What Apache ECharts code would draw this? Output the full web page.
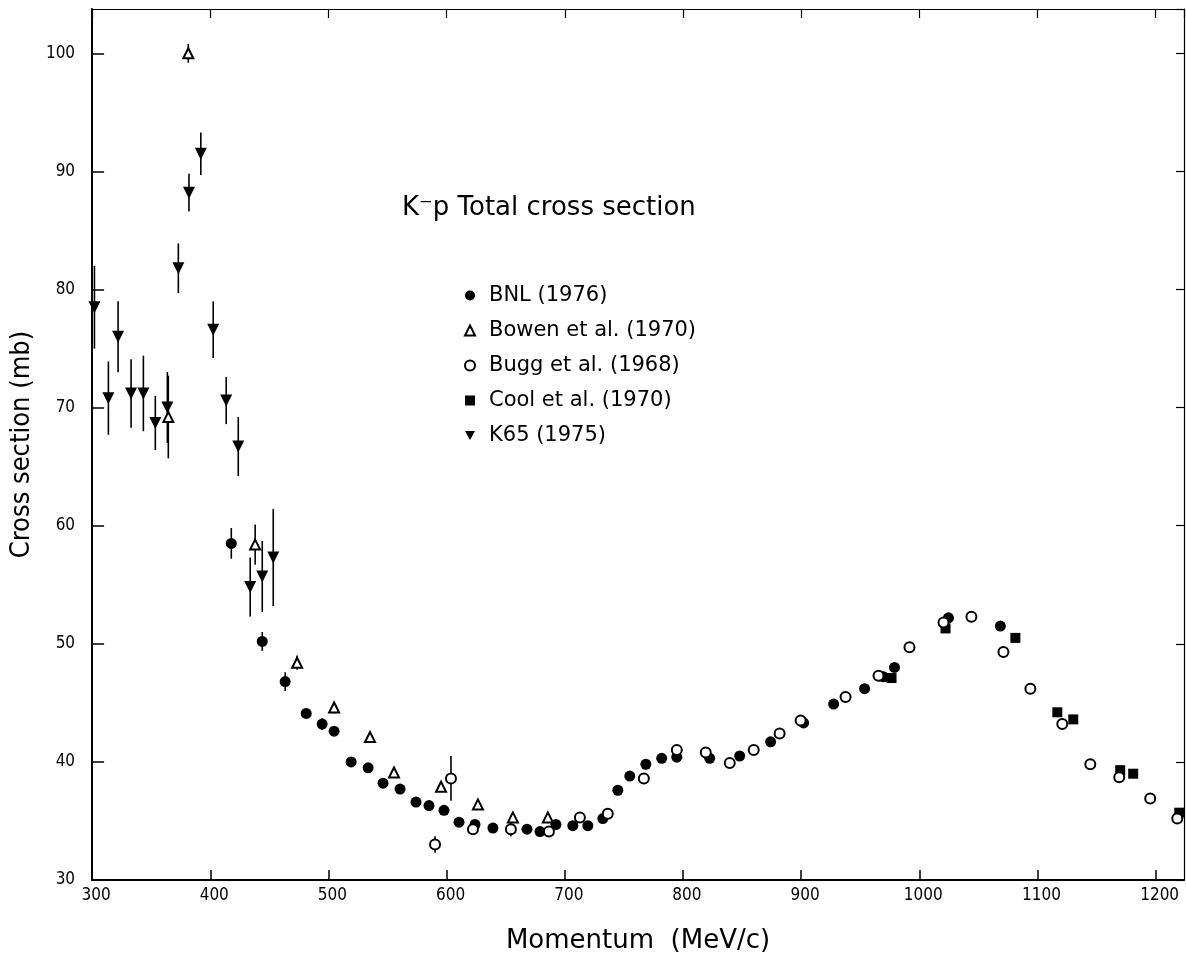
<!DOCTYPE html>
<html>
<head>
<meta charset="utf-8">
<script src="https://cdn.jsdelivr.net/npm/echarts@6/dist/echarts.min.js"></script>
<style>
  html, body { margin: 0; padding: 0; background: #fff; }
  #chart { width: 1186px; height: 965px; }
</style>
</head>
<body>
<div id="chart"></div>
<script>
/*-----data (momentum MeV/c, cross section mb, error mb)-----*/
var bnlX = [417.8, 444, 463.4, 481.2, 494.7, 504.8, 519.2, 533.6, 546.2, 560.6, 574.1, 585.1, 597.8, 610.5, 624, 639.2, 668, 679, 692.5, 706.8, 719.5, 732.2, 744.9, 755, 768.6, 782, 794.8, 822.6, 848, 874.2, 902.1, 927.5, 953.7, 969.7, 979, 1024.7, 1068.6];
var bnlY = [58.5, 50.2, 46.8, 44.1, 43.2, 42.6, 40.0, 39.5, 38.2, 37.7, 36.6, 36.3, 35.9, 34.9, 34.7, 34.4, 34.3, 34.1, 34.7, 34.6, 34.6, 35.2, 37.6, 38.8, 39.8, 40.3, 40.4, 40.3, 40.5, 41.7, 43.3, 44.9, 46.2, 47.2, 48.0, 52.2, 51.5];
var bnlErr = [1.3, 0.8, 0.8, 0.4, 0.5];

var bowenX = [364.5, 381.4, 438, 473.5, 504.8, 535.2, 555.5, 595.3, 626.5, 656.1, 685.7];
var bowenY = [69.2, 100.0, 58.4, 48.4, 44.6, 42.1, 39.1, 37.9, 36.4, 35.3, 35.3];
var bowenErr = [3.5, 0.8, 1.7, 0.6, 0.5, 0.4];

var buggX = [590.2, 603.7, 622.3, 654.4, 686.6, 712.8, 736.4, 766.9, 794.8, 819.3, 839.6, 859.9, 881.8, 899.6, 937.6, 965.5, 991.7, 1020.5, 1044.1, 1071.2, 1094, 1121, 1144.7, 1169.2, 1195.4, 1218.3];
var buggY = [33.0, 38.6, 34.3, 34.3, 34.1, 35.3, 35.6, 38.6, 41.0, 40.8, 39.9, 41.0, 42.4, 43.5, 45.5, 47.3, 49.7, 51.8, 52.3, 49.3, 46.2, 43.2, 39.8, 38.7, 36.9, 35.2];
var buggErr = [0.7, 1.9, 0.4, 0.6];

var coolX = [976.5, 1022.2, 1081.3, 1116.8, 1130.3, 1170, 1181, 1220];
var coolY = [47.1, 51.3, 50.5, 44.2, 43.6, 39.3, 39.0, 35.7];

var k65X = [302, 313.8, 322, 333, 343.4, 353.5, 363.7, 373, 382, 392, 402.5, 413.5, 423.7, 433.8, 444, 453.3];
var k65Y = [78.5, 70.8, 76.0, 71.2, 71.2, 68.7, 70.0, 81.8, 88.2, 91.5, 76.6, 70.6, 66.7, 54.8, 55.7, 57.3];
var k65Err = [3.5, 3.1, 3.0, 2.9, 3.2, 2.3, 3.0, 2.1, 1.6, 1.8, 2.4, 2.0, 2.5, 2.5, 3.0, 4.1];

var xTicks = [300, 400, 500, 600, 700, 800, 900, 1000, 1100, 1200];
var yTicks = [30, 40, 50, 60, 70, 80, 90, 100];

/*-----helpers-----*/
function points(xs, ys) {
  var out = [];
  for (var i = 0; i < xs.length; i++) out.push([xs[i], ys[i]]);
  return out;
}
function bars(xs, ys, es) {
  var out = [];
  for (var i = 0; i < es.length; i++) {
    if (es[i]) out.push([xs[i], ys[i] - es[i], ys[i] + es[i]]);
  }
  return out;
}
var errData = []
  .concat(bars(bnlX, bnlY, bnlErr))
  .concat(bars(bowenX, bowenY, bowenErr))
  .concat(bars(buggX, buggY, buggErr))
  .concat(bars(k65X, k65Y, k65Err));

var ink = '#000';
var narrow = "'Liberation Sans Narrow', 'DejaVu Sans Condensed', 'Liberation Sans', sans-serif";
var round = "'DejaVu Sans', 'Noto Sans', sans-serif";

var chart = echarts.init(document.getElementById('chart'));

var option = {
  backgroundColor: '#fff',
  animation: false,
  title: {
    text: 'K\u207Bp Total cross section',
    left: 397,
    top: 190,
    textStyle: { fontFamily: round, fontSize: 26, fontWeight: 'normal', color: ink }
  },
  legend: {
    orient: 'vertical',
    left: 459,
    top: 280,
    itemWidth: 10,
    itemHeight: 10,
    itemGap: 14,
    data: [
      { name: 'BNL (1976)' },
      { name: 'Bowen et al. (1970)' },
      { name: 'Bugg et al. (1968)' },
      { name: 'Cool et al. (1970)' },
      { name: 'K65 (1975)', icon: 'path://M0,0 L10,0 L5,9 Z' }
    ],
    textStyle: { fontFamily: round, fontSize: 21, color: ink, padding: [0, 0, 0, 9] }
  },
  grid: { left: 91, right: 2, top: 9, bottom: 85 },
  xAxis: [{
    type: 'value',
    min: 300,
    max: 1224,
    interval: 100,
    position: 'bottom',
    name: 'Momentum  (MeV/c)',
    nameLocation: 'middle',
    nameGap: 48,
    nameTextStyle: { fontFamily: round, fontSize: 26, color: ink },
    axisLine: { lineStyle: { color: ink, width: 2 } },
    axisTick: { inside: true, length: 10, lineStyle: { color: ink, width: 1.5 } },
    axisLabel: {
      fontFamily: narrow, fontSize: 17, color: ink, margin: 7,
      showMinLabel: true, showMaxLabel: false,
      padding: [0, 0, 0, 8],
      formatter: function (v) { return xTicks.indexOf(v) >= 0 ? String(v) : ''; }
    },
    splitLine: { show: false }
  }, {
    type: 'value',
    min: 300,
    max: 1224,
    interval: 100,
    position: 'top',
    axisLine: { lineStyle: { color: ink, width: 1.2 } },
    axisTick: { inside: true, length: 9, lineStyle: { color: ink, width: 1.2 } },
    axisLabel: { show: false },
    splitLine: { show: false }
  }],
  yAxis: [{
    type: 'value',
    min: 30,
    max: 103.75,
    interval: 10,
    position: 'left',
    name: 'Cross section (mb)',
    nameLocation: 'middle',
    nameGap: 52,
    nameTextStyle: { fontFamily: narrow, fontSize: 27, color: ink },
    axisLine: { lineStyle: { color: ink, width: 2 } },
    axisTick: { inside: true, length: 12, lineStyle: { color: ink, width: 1.5 } },
    axisLabel: {
      fontFamily: narrow, fontSize: 17, color: ink, margin: 17,
      showMaxLabel: false,
      formatter: function (v) { return yTicks.indexOf(v) >= 0 ? String(v) : ''; }
    },
    splitLine: { show: false }
  }, {
    type: 'value',
    min: 30,
    max: 103.75,
    interval: 10,
    position: 'right',
    axisLine: { lineStyle: { color: ink, width: 1.2 } },
    axisTick: { inside: true, length: 8, lineStyle: { color: ink, width: 1.2 } },
    axisLabel: { show: false },
    splitLine: { show: false }
  }],
  series: [
    {
      type: 'custom',
      z: 1,
      silent: true,
      encode: { x: 0, y: [1, 2] },
      data: errData,
      renderItem: function (params, api) {
        var x = api.value(0);
        var p1 = api.coord([x, api.value(1)]);
        var p2 = api.coord([x, api.value(2)]);
        return {
          type: 'line',
          shape: { x1: p1[0], y1: p1[1], x2: p2[0], y2: p2[1] },
          style: { stroke: ink, lineWidth: 1.6 }
        };
      }
    },
    {
      name: 'BNL (1976)',
      type: 'scatter',
      z: 3,
      symbol: 'circle',
      symbolSize: 11,
      itemStyle: { color: ink, opacity: 1 },
      data: points(bnlX, bnlY)
    },
    {
      name: 'Bowen et al. (1970)',
      type: 'scatter',
      z: 4,
      symbol: 'triangle',
      symbolSize: 10,
      itemStyle: { color: '#fff', borderColor: ink, borderWidth: 2, opacity: 1 },
      data: points(bowenX, bowenY)
    },
    {
      name: 'Bugg et al. (1968)',
      type: 'scatter',
      z: 4,
      symbol: 'circle',
      symbolSize: 10,
      itemStyle: { color: '#fff', borderColor: ink, borderWidth: 2, opacity: 1 },
      data: points(buggX, buggY)
    },
    {
      name: 'Cool et al. (1970)',
      type: 'scatter',
      z: 3,
      symbol: 'rect',
      symbolSize: 10,
      itemStyle: { color: ink, opacity: 1 },
      data: points(coolX, coolY)
    },
    {
      name: 'K65 (1975)',
      type: 'scatter',
      z: 3,
      symbol: 'triangle',
      symbolRotate: 180,
      symbolSize: 12,
      itemStyle: { color: ink, opacity: 1 },
      data: points(k65X, k65Y)
    }
  ]
};

chart.setOption(option);
</script>
</body>
</html>
